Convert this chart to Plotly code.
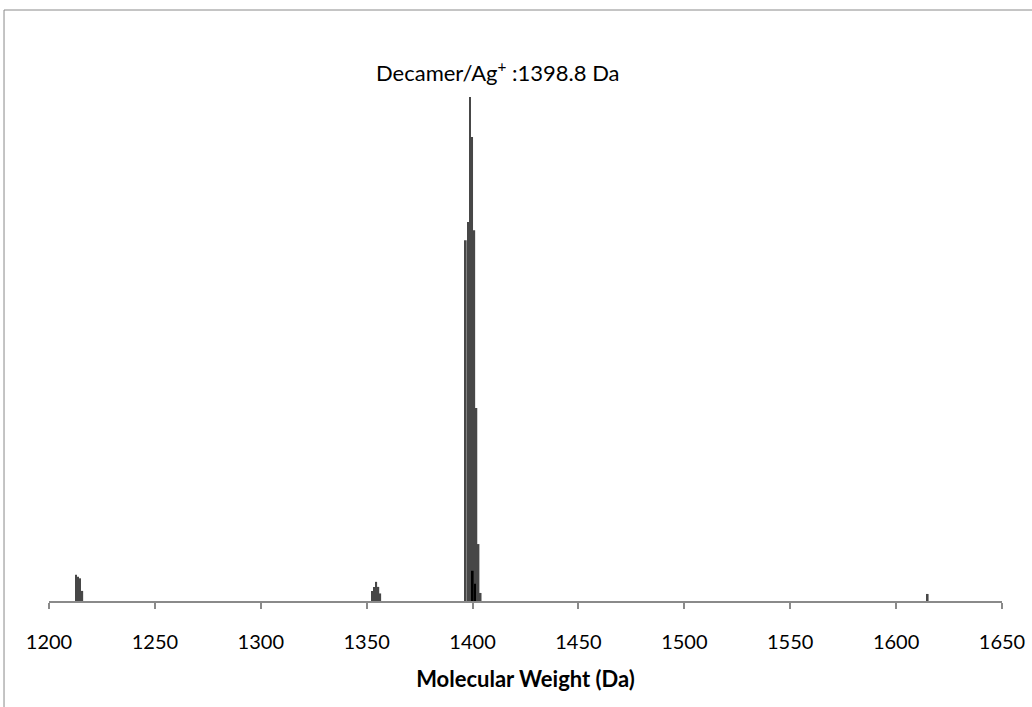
import plotly.graph_objects as go

# Main series: molecular weight (Da) and relative intensity
mass = [1212.7, 1213.7, 1214.7, 1215.7,
        1352.5, 1353.5, 1354.5, 1355.5, 1356.4,
        1396.8, 1397.8, 1398.8, 1399.8, 1400.8, 1401.8, 1402.8, 1403.8,
        1614.9]
intensity = [5.2, 4.8, 4.5, 2.0,
             2.0, 2.8, 3.8, 2.8, 1.5,
             71.6, 75.2, 100.0, 92.1, 73.6, 38.3, 11.3, 1.6,
             1.4]

# Second (overlaid) series
mass2 = [1400.1, 1401.1]
intensity2 = [6.0, 3.4]

tick_vals = [1200, 1250, 1300, 1350, 1400, 1450, 1500, 1550, 1600, 1650]

fig = go.Figure()
fig.add_trace(go.Bar(x=mass, y=intensity, width=0.85,
                     marker=dict(color="#474747", line=dict(width=0)),
                     showlegend=False))
fig.add_trace(go.Bar(x=mass2, y=intensity2, width=0.8,
                     marker=dict(color="#000000", line=dict(width=0)),
                     showlegend=False))

fig.update_layout(
    width=1032, height=707,
    margin=dict(l=49, r=30, t=20, b=106, autoexpand=False),
    paper_bgcolor="white", plot_bgcolor="white",
    barmode="overlay",
    font=dict(family="Lato", size=20, color="#000000"),
    xaxis=dict(range=[1200, 1650], tickvals=tick_vals,
               showgrid=False, zeroline=False, automargin=False,
               showline=True, linecolor="#8a8a8a", linewidth=1.5,
               ticks="outside", ticklen=6, tickcolor="#8a8a8a", tickwidth=1.5,
               ticklabelstandoff=16,
               tickfont=dict(family="Lato", size=20),
               title=dict(text="<b>Molecular Weight (Da)</b>",
                          font=dict(family="Lato", size=22), standoff=20)),
    yaxis=dict(range=[0, 115.3], visible=False, showgrid=False, automargin=False),
    annotations=[dict(x=1411.9, y=105, xref="x", yref="y",
                      text="Decamer/Ag<sup>+</sup> :1398.8 Da",
                      showarrow=False, xanchor="center", yanchor="middle",
                      font=dict(family="Lato", size=22))],
    shapes=[dict(type="rect", xref="paper", yref="paper",
                 x0=-0.0472, x1=1.2, y0=-0.3, y1=1.0172,
                 line=dict(color="#8a8a8a", width=1), layer="below")],
)

fig.write_html("out.html", config={"displayModeBar": False},
               post_script="document.body.style.margin='0';document.body.style.overflow='hidden';")
